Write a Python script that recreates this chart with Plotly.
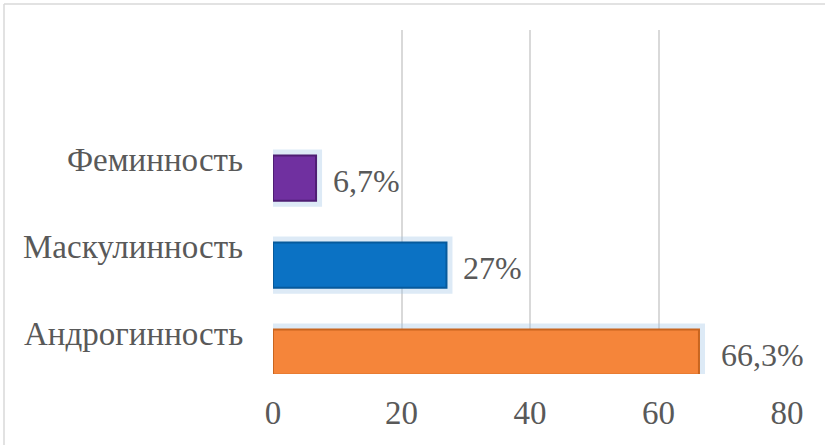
import plotly.graph_objects as go

categories = ["Андрогинность", "Маскулинность", "Феминность"]
values = [66.3, 27, 6.7]
value_labels = ["66,3%", "27%", "6,7%"]
bar_colors = ["#F5853A", "#0B72C4", "#7030A0"]
edge_colors = ["#C8651F", "#075A9C", "#4E1E73"]
x_ticks = [0, 20, 40, 60, 80]

FONT = "'Times New Roman', 'Liberation Serif', serif"
GRAY = "#595959"

fig = go.Figure()

# soft glow behind bars
fig.add_trace(go.Bar(
    y=categories, x=values, orientation="h", width=0.52,
    marker=dict(color="rgba(157,195,230,0.35)",
                line=dict(color="rgba(157,195,230,0.35)", width=12)),
    hoverinfo="skip", showlegend=False,
))
# main bars
fig.add_trace(go.Bar(
    y=categories, x=values, orientation="h", width=0.52,
    marker=dict(color=bar_colors, line=dict(color=edge_colors, width=2)),
    showlegend=False,
))

# value labels
xshifts = [20, 15, 15]
for c, v, t, s in zip(categories, values, value_labels, xshifts):
    fig.add_annotation(x=v, y=c, text=t, showarrow=False, xanchor="left",
                       xshift=s, yshift=-3,
                       font=dict(family=FONT, size=32, color=GRAY))

# category labels (sit slightly above the bar centres, as in the reference)
for c in categories:
    fig.add_annotation(x=0, xref="paper", y=c, yref="y", text=c,
                       showarrow=False, xanchor="right", xshift=-28, yshift=18,
                       font=dict(family=FONT, size=33, color=GRAY))

W, H = 825, 445
L, R, T, B = 273, 38, 30, 71
pw, ph = W - L - R, H - T - B


def px(xp):
    return (xp - L) / pw


def py(yp):
    return (H - B - yp) / ph


# frame lines (top and left only, as in the reference)
fig.add_shape(type="line", xref="paper", yref="paper",
              x0=px(4), x1=px(825), y0=py(4), y1=py(4),
              line=dict(color="#D9D9D9", width=1.5))
fig.add_shape(type="line", xref="paper", yref="paper",
              x0=px(4), x1=px(4), y0=py(4), y1=py(445),
              line=dict(color="#D9D9D9", width=1.5))

fig.update_layout(
    width=W, height=H,
    margin=dict(l=L, r=R, t=T, b=B),
    paper_bgcolor="white", plot_bgcolor="white",
    barmode="overlay",
    font=dict(family=FONT, size=32, color=GRAY),
    xaxis=dict(range=[0, 80], tickvals=x_ticks, showgrid=True,
               gridcolor="#D9D9D9", gridwidth=1.5, zeroline=False,
               showline=False, ticks="", tickfont=dict(family=FONT, size=33, color=GRAY),
               ticklabelstandoff=16),
    yaxis=dict(type="category", categoryorder="array", categoryarray=categories,
               range=[-0.25, 3.70], showgrid=False, zeroline=False,
               showline=False, ticks="", showticklabels=False),
)

fig.write_html("out.html", config={"displayModeBar": False},
               post_script="document.body.style.margin='0';document.body.style.overflow='hidden';")
